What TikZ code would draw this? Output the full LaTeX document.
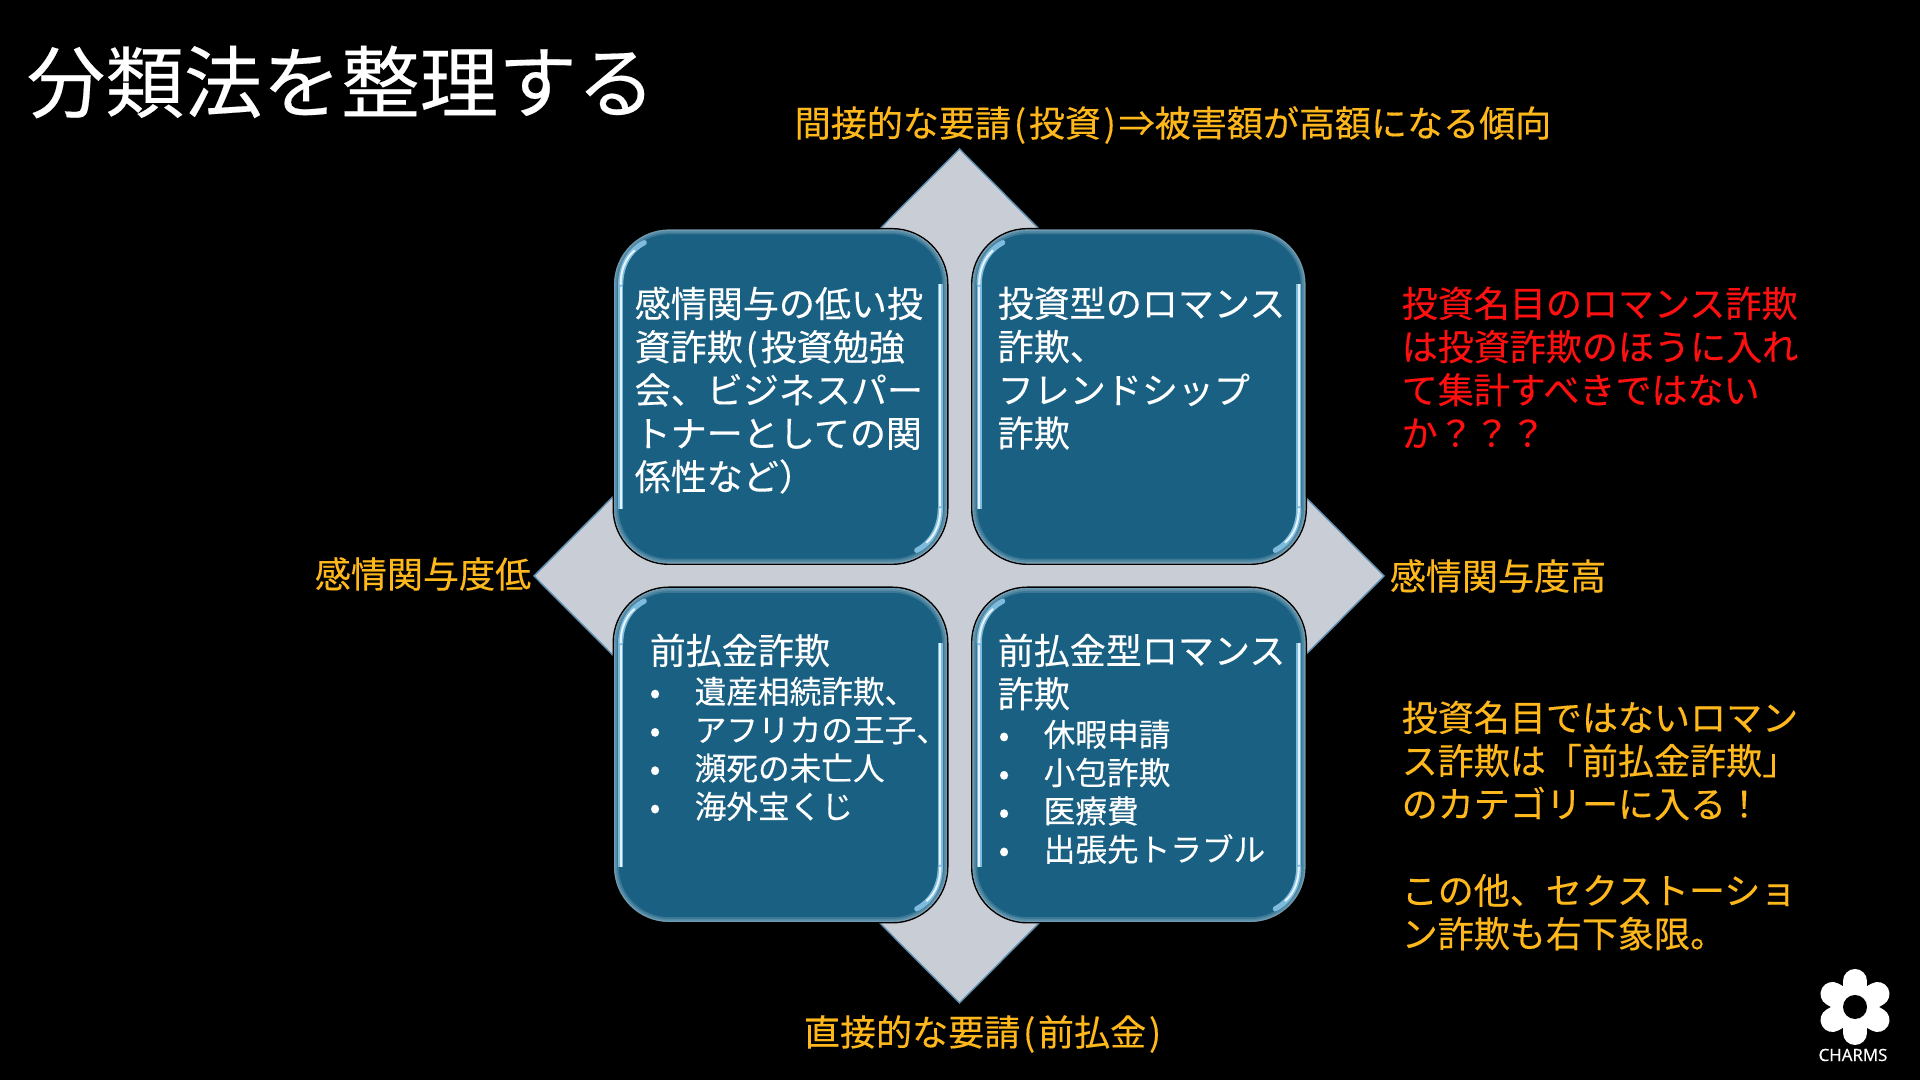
\documentclass[tikz,border=0pt]{standalone}
\usepackage{fontspec}
\setmainfont[FakeBold=0.25]{Noto Sans CJK JP}
\newfontfamily\logofont[FakeBold=0.6]{Open Sans}
\usetikzlibrary{calc}
\definecolor{panelblue}{HTML}{1A6082}
\definecolor{glowblue}{HTML}{7FBBDD}
\definecolor{glowcore}{HTML}{E2F3FC}
\definecolor{diamondgrey}{HTML}{C9CDD5}
\definecolor{diamondedge}{HTML}{5E8FB2}
\definecolor{noteorange}{HTML}{FFB81C}
\definecolor{notered}{HTML}{FF1010}
\newcommand{\bulitem}[1]{\makebox[0.45cm][l]{•}#1}
\newcommand{\lpar}{\kern0.8pt(\kern0.8pt}
\newcommand{\rpar}{\kern0.8pt)\kern0.8pt}

\begin{document}
\begin{tikzpicture}[
		x=0.01cm,
		y=-0.01cm,
		panel/.style={
			rounded corners=0.555cm,
			fill=panelblue,
			minimum width=3.33cm,
			minimum height=3.34cm,
			inner sep=0pt
		},
		bigtext/.style={
			anchor=north west,
			text=white,
			align=left,
			inner sep=0pt,
			font=\fontsize{10.25}{12.3}\selectfont
		},
		listtext/.style={
			anchor=north west,
			text=white,
			align=left,
			inner sep=0pt,
			font=\fontsize{9}{10.9}\selectfont
		},
		axislabel/.style={
			text=noteorange,
			inner sep=0pt,
			font=\fontsize{10.25}{12.3}\selectfont
		},
		sidenote/.style={
			anchor=north west,
			align=left,
			inner sep=0pt,
			font=\fontsize{10.25}{12.3}\selectfont
		},
		edgeglow/.style={
			draw=glowcore,
			rounded corners=0.555cm,
			draw opacity=0.16
		},
		sidelight/.style={
			draw=glowblue,
			line width=1.5pt
		},
		sidecore/.style={
			draw=glowcore,
			line width=0.6pt
		},
		petal/.style={
			draw=white,
			line width=0.24cm,
			line cap=round
		}
	]
		\fill[black] (0,0) rectangle (1920,1080);

		\node[text=white,anchor=west,inner sep=0pt,font=\fontsize{22.35}{26}\selectfont] (title) at (26,82) {分類法を整理する};

		\path[fill=diamondgrey,draw=diamondedge,line width=0.4pt] (959.5,149) -- (1384,576) -- (959.5,1003) -- (534,576) -- cycle;

		\node[panel] (q1) at (780.5,396.5) {};
		\node[panel] (q2) at (1139,396.5) {};
		\node[panel] (q3) at (780.5,755) {};
		\node[panel] (q4) at (1139,755) {};

		\foreach \q in {q1,q2,q3,q4} {
			\begin{scope}
				\clip[rounded corners=0.555cm] (\q.north west) rectangle (\q.south east);
				\foreach \w in {3.2,2.2,1.2,0.6}
					\draw[edgeglow,line width=\w pt] (\q.north west) rectangle (\q.south east);
				% left and right sides
				\foreach \s in {sidelight,sidecore} {
					\draw[\s] ($(\q.north west)+(7.5,55.5)$) -- ($(\q.south west)+(7.5,-55.5)$);
					\draw[\s] ($(\q.north east)+(-7.5,55.5)$) -- ($(\q.south east)+(-7.5,-55.5)$);
				}
				% top left and bottom right corners
				\draw[sidelight,line cap=round] ($(\q.north west)+(7.5,55.5)$) .. controls ($(\q.north west)+(7.5,38)$) and ($(\q.north west)+(15.8,21.8)$) .. ($(\q.north west)+(31,14)$);
				\draw[sidecore,line cap=round] ($(\q.north west)+(7.5,55.5)$) .. controls ($(\q.north west)+(7.5,42.5)$) and ($(\q.north west)+(11.7,30.1)$) .. ($(\q.north west)+(21,22)$);
				\draw[sidelight,line cap=round] ($(\q.south east)+(-7.5,-55.5)$) .. controls ($(\q.south east)+(-7.5,-38)$) and ($(\q.south east)+(-15.8,-21.8)$) .. ($(\q.south east)+(-31,-14)$);
				\draw[sidecore,line cap=round] ($(\q.south east)+(-7.5,-55.5)$) .. controls ($(\q.south east)+(-7.5,-42.5)$) and ($(\q.south east)+(-11.7,-30.1)$) .. ($(\q.south east)+(-21,-22)$);
			\end{scope}
			\draw[black,line width=0.4pt,rounded corners=0.555cm] (\q.north west) rectangle (\q.south east);
		}

		\node[bigtext] (q1text) at (634,286) {感情関与の低い投\\資詐欺\lpar 投資勉強\\会、ビジネスパー\\トナーとしての関\\係性など）};
		\node[bigtext] (q2text) at (997,286) {投資型のロマンス\\詐欺、\\フレンドシップ\\詐欺};
		\node[bigtext] (q3head) at (649,633) {前払金詐欺};
		\node[listtext] (q3list) at (649,676) {\bulitem{遺産相続詐欺、}\\\bulitem{アフリカの王子、}\\\bulitem{瀕死の未亡人}\\\bulitem{海外宝くじ}};
		\node[bigtext] (q4head) at (997,633) {前払金型ロマンス\\詐欺};
		\node[listtext] (q4list) at (998,719) {\bulitem{休暇申請}\\\bulitem{小包詐欺}\\\bulitem{医療費}\\\bulitem{出張先トラブル}};

		\node[axislabel] (labtop) at (1173,125) {間接的な要請\lpar 投資\rpar⇒被害額が高額になる傾向};
		\node[axislabel] (labbottom) at (984,1034) {直接的な要請\lpar 前払金\rpar};
		\node[axislabel] (lableft) at (423,574) {感情関与度低};
		\node[axislabel] (labright) at (1498,576) {感情関与度高};

		\node[sidenote,text=notered] (noteup) at (1401,286) {投資名目のロマンス詐欺\\は投資詐欺のほうに入れ\\て集計すべきではない\\か？？？};
		\node[sidenote,text=noteorange] (notedown) at (1401,700) {投資名目ではないロマン\\ス詐欺は「前払金詐欺」\\のカテゴリーに入る！\\\\この他、セクストーショ\\ン詐欺も右下象限。};

		\foreach \ang in {30,90,...,330}
			\draw[petal] (1855,1007) -- ++(\ang:26);
		\node[circle,fill=black,minimum size=0.24cm,inner sep=0pt] (logohole) at (1855,1007) {};
		\node[text=white,inner sep=0pt,font=\logofont\fontsize{4.8}{6}\selectfont] (logoname) at (1853,1055) {CHARMS};
	\end{tikzpicture}
\end{document}
